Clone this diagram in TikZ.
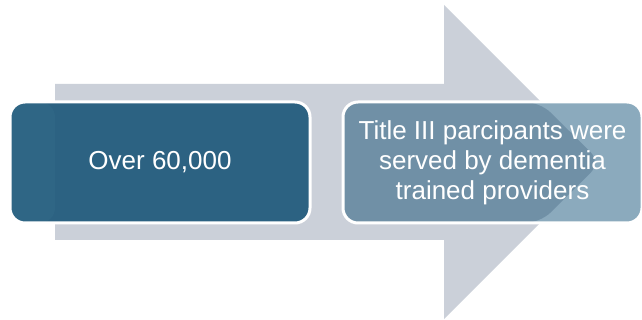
\documentclass[tikz,border=0pt]{standalone}
\usepackage{fontspec}
\setmainfont{Liberation Sans}
\definecolor{arrowgray}{HTML}{CBD0D9}
\definecolor{boxA}{HTML}{2C6282}
\definecolor{boxAlight}{HTML}{2F6685}
\definecolor{boxB}{HTML}{8BAABD}
\definecolor{boxBdark}{HTML}{7090A6}
\tikzset{
  stagebox/.style={rectangle, rounded corners=15pt, minimum width=300pt, minimum height=121pt,
    inner sep=0pt, draw=white, line width=3pt, text=white, align=center},
}
\begin{document}
\begin{tikzpicture}[x=1pt,y=-1pt]
\useasboundingbox (0,0) rectangle (642,320);
% background arrow
\fill[arrowgray] (55,84) -- (444,84) -- (444,5) -- (601,162) -- (444,319) -- (444,240) -- (55,240) -- cycle;
% box 1
\node[stagebox, fill=boxA, minimum width=300pt,
  path picture={\fill[boxAlight] (path picture bounding box.north west) rectangle ([xshift=45pt]path picture bounding box.south west);},
  font=\fontsize{26}{31}\selectfont] (b1) at (160,162.5) {Over 60,000};
% box 2
\node[stagebox, fill=boxB, minimum width=299pt,
  path picture={\fill[boxBdark] (path picture bounding box.north west) -- ([xshift=197pt]path picture bounding box.north west) -- ([xshift=258pt]path picture bounding box.west) -- ([xshift=197pt]path picture bounding box.south west) -- (path picture bounding box.south west) -- cycle;},
  font=\fontsize{26}{30}\selectfont] (b2) at (492.5,162.5) {Title III parcipants were\\served by dementia\\trained providers};
\end{tikzpicture}
\end{document}
